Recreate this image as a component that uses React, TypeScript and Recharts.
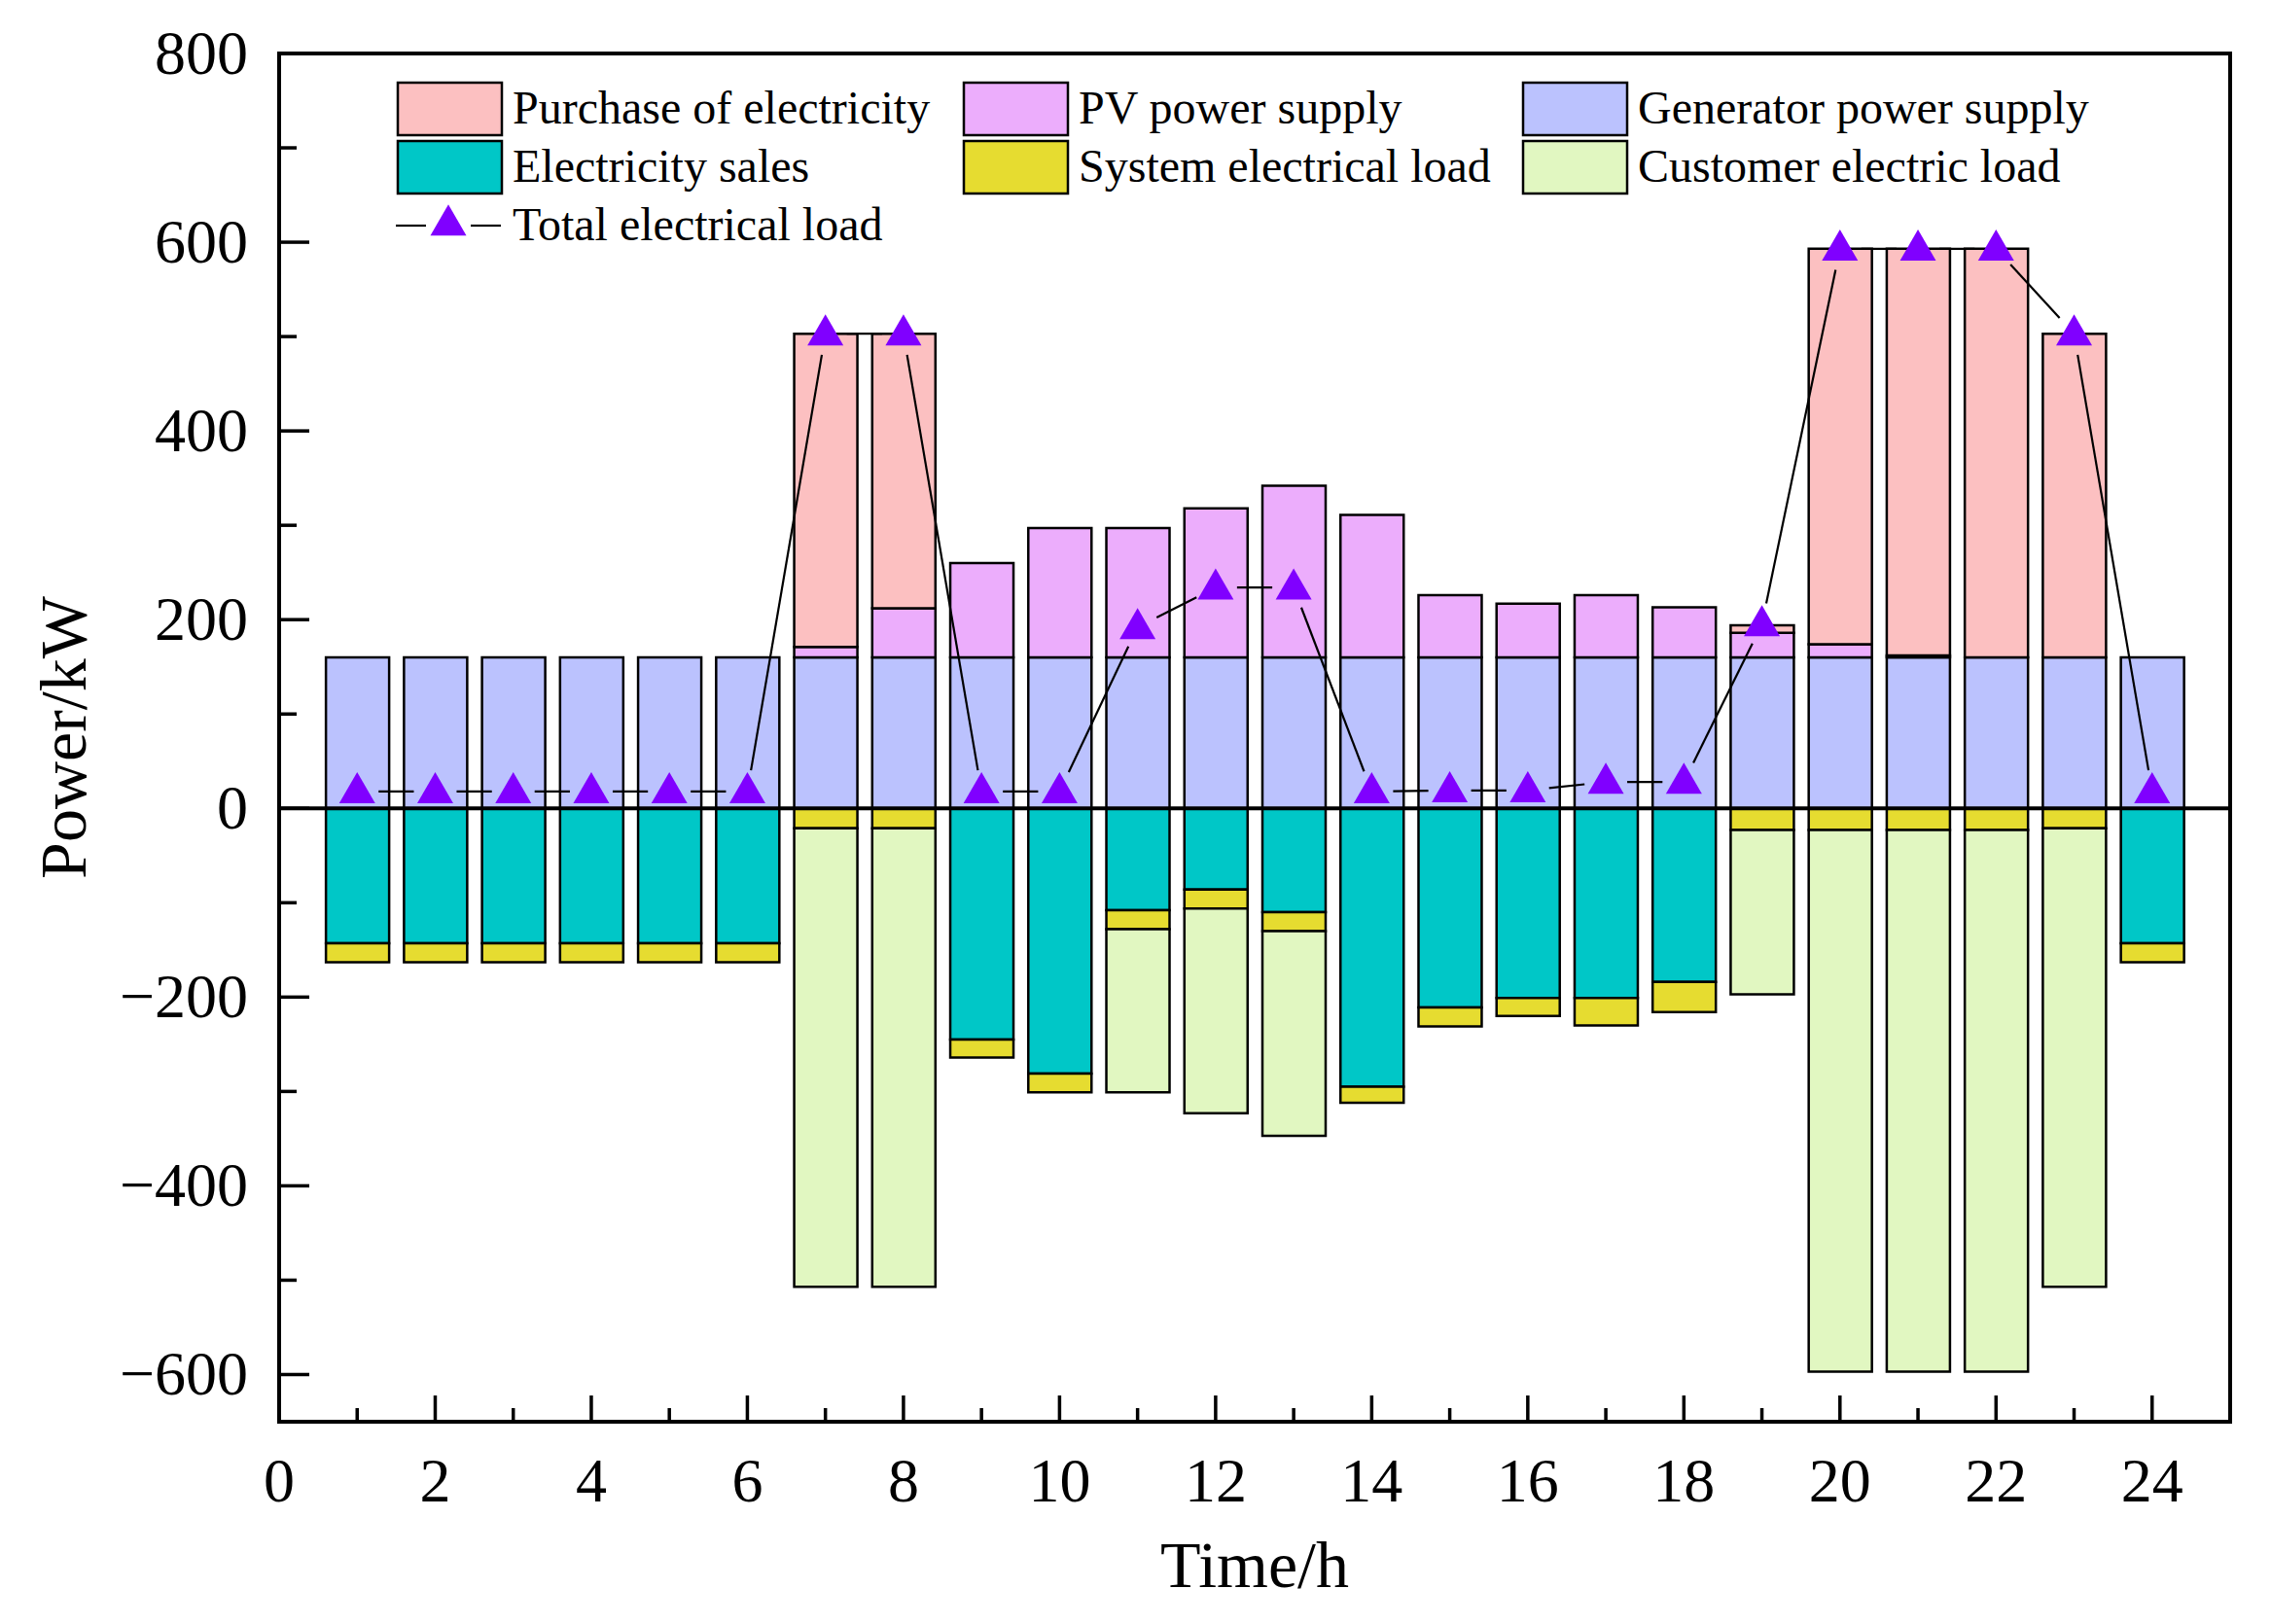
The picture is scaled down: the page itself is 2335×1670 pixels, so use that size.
import React from 'react';
import {
  ComposedChart,
  Bar,
  Line,
  XAxis,
  YAxis,
  ReferenceLine,
  ReferenceArea,
  Legend,
} from 'recharts';

// ---------- data ----------
const hours = [1, 2, 3, 4, 5, 6, 7, 8, 9, 10, 11, 12, 13, 14, 15, 16, 17, 18, 19, 20, 21, 22, 23, 24];
const generatorSupply = [160, 160, 160, 160, 160, 160, 160, 160, 160, 160, 160, 160, 160, 160, 160, 160, 160, 160, 160, 160, 160, 160, 160, 160];
const pvSupply = [0, 0, 0, 0, 0, 0, 11, 52, 100, 137, 137, 158, 182, 151, 66, 57, 66, 53, 26, 14, 2, 0, 0, 0];
const purchase = [0, 0, 0, 0, 0, 0, 332, 291, 0, 0, 0, 0, 0, 0, 0, 0, 0, 0, 8, 419, 431, 433, 343, 0];
const sales = [-143, -143, -143, -143, -143, -143, 0, 0, -245, -281, -108, -86, -110, -295, -211, -201, -201, -184, 0, 0, 0, 0, 0, -143];
const systemLoad = [-20, -20, -20, -20, -20, -20, -21, -21, -19, -20, -20, -20, -20, -17, -20, -19, -29, -32, -23, -23, -23, -23, -21, -20];
const customerLoad = [0, 0, 0, 0, 0, 0, -486, -486, 0, 0, -173, -217, -217, 0, 0, 0, 0, 0, -174, -574, -574, -574, -486, 0];
const totalLoad = [18, 18, 18, 18, 18, 18, 503, 503, 18, 18, 192, 234, 234, 18, 19, 19, 28, 28, 195, 593, 593, 593, 503, 18];

const xTicks = [0, 1, 2, 3, 4, 5, 6, 7, 8, 9, 10, 11, 12, 13, 14, 15, 16, 17, 18, 19, 20, 21, 22, 23, 24];
const yTicks = [-600, -500, -400, -300, -200, -100, 0, 100, 200, 300, 400, 500, 600, 700, 800];

const seriesKeys = ['purchase', 'pv', 'gen', 'sales', 'sys', 'customer'];
const seriesNames = [
  'Purchase of electricity',
  'PV power supply',
  'Generator power supply',
  'Electricity sales',
  'System electrical load',
  'Customer electric load',
];
const seriesColors = ['#FCC0C1', '#ECADFC', '#BBC2FE', '#00C7C7', '#E6DC30', '#E1F7C1'];
const lineName = 'Total electrical load';
const markerColor = '#8000FF';

const data = hours.map((h, i) => ({
  hour: h,
  gen: generatorSupply[i],
  pv: pvSupply[i],
  purchase: purchase[i],
  sales: sales[i],
  sys: systemLoad[i],
  customer: customerLoad[i],
  total: totalLoad[i],
}));

const FONT = "'Liberation Serif', 'Times New Roman', serif";

// triangle whose centroid-ish point sits on the data point
const trianglePoints = (cx: number, cy: number, w: number, h: number) =>
  `${cx},${cy - h * 0.62} ${cx + w / 2},${cy + h * 0.38} ${cx - w / 2},${cy + h * 0.38}`;

const XTick = (props: any) => {
  const { x, y, payload } = props;
  const v = payload.value;
  const major = v % 2 === 0;
  return (
    <g>
      <line x1={x} y1={y} x2={x} y2={y - (major ? 27 : 14)} stroke="#000" strokeWidth={3.5} />
      {major && (
        <text x={x} y={y + 82} textAnchor="middle" fontFamily={FONT} fontSize={64} fill="#000">
          {String(v)}
        </text>
      )}
    </g>
  );
};

const YTick = (props: any) => {
  const { x, y, payload } = props;
  const v = payload.value;
  const major = v % 200 === 0;
  const label = v < 0 ? `\u2212${Math.abs(v)}` : String(v);
  return (
    <g>
      <line x1={x} y1={y} x2={x + (major ? 31 : 18)} y2={y} stroke="#000" strokeWidth={3.5} />
      {major && (
        <text x={x - 32} y={y + 21} textAnchor="end" fontFamily={FONT} fontSize={64} fill="#000">
          {label}
        </text>
      )}
    </g>
  );
};

const renderMarker = (props: any) => {
  const { cx, cy, index, points } = props;
  const next = points && points[index + 1];
  let seg = null;
  if (next && cx != null && cy != null) {
    const dx = next.x - cx;
    const dy = next.y - cy;
    const len = Math.hypot(dx, dy);
    const g = 22;
    if (len > 2 * g) {
      seg = (
        <line
          x1={cx + (dx / len) * g}
          y1={cy + (dy / len) * g}
          x2={next.x - (dx / len) * g}
          y2={next.y - (dy / len) * g}
          stroke="#000"
          strokeWidth={2.2}
        />
      );
    }
  }
  return (
    <g key={`mk-${index}`}>
      {seg}
      <polygon points={trianglePoints(cx, cy, 37, 32)} fill={markerColor} />
    </g>
  );
};

const legendOrder = [0, 1, 2, 3, 4, 5];
const LegendContent = () => {
  const colX = [409, 991, 1566];
  const rowTop = [85, 145];
  const sw = 107;
  const sh = 54;
  return (
    <svg width={2335} height={300} style={{ position: 'absolute', left: 0, top: 0 }}>
      {legendOrder.map((si, k) => {
        const col = k % 3;
        const row = Math.floor(k / 3);
        const x = colX[col];
        const y = rowTop[row];
        return (
          <g key={seriesKeys[si]}>
            <rect x={x} y={y} width={sw} height={sh} fill={seriesColors[si]} stroke="#000" strokeWidth={2.5} />
            <text x={x + sw + 11} y={y + sh / 2 + 15} fontFamily={FONT} fontSize={48} fill="#000">
              {seriesNames[si]}
            </text>
          </g>
        );
      })}
      <g>
        <line x1={407} y1={232} x2={438} y2={232} stroke="#000" strokeWidth={2.2} />
        <line x1={484} y1={232} x2={515} y2={232} stroke="#000" strokeWidth={2.2} />
        <polygon points={trianglePoints(461, 230, 37, 32)} fill={markerColor} />
        <text x={527} y={247} fontFamily={FONT} fontSize={48} fill="#000">
          {lineName}
        </text>
      </g>
    </svg>
  );
};

const XLabel = (props: any) => {
  const { viewBox } = props;
  const cx = viewBox.x + viewBox.width / 2;
  return (
    <text x={cx} y={viewBox.y + 170} textAnchor="middle" fontFamily={FONT} fontSize={68} fill="#000">
      Time/h
    </text>
  );
};

const YLabel = (props: any) => {
  const { viewBox } = props;
  const cy = viewBox.y + viewBox.height / 2;
  return (
    <text
      x={88}
      y={cy}
      transform={`rotate(-90, 88, ${cy})`}
      textAnchor="middle"
      fontFamily={FONT}
      fontSize={68}
      fill="#000"
    >
      Power/kW
    </text>
  );
};

export default function App() {
  return (
    <div style={{ position: 'absolute', left: 0, top: 0, width: 2335, height: 1670, background: '#fff' }}>
      <ComposedChart
        width={2335}
        height={1670}
        data={data}
        stackOffset="sign"
        margin={{ top: 55, right: 42, left: 0, bottom: 0 }}
      >
        <XAxis
          dataKey="hour"
          type="number"
          domain={[0, 25]}
          ticks={xTicks}
          interval={0}
          height={208}
          tickSize={0}
          tickMargin={0}
          tickLine={false}
          tick={<XTick />}
          axisLine={{ stroke: '#000', strokeWidth: 4 }}
          label={<XLabel />}
        />
        <YAxis
          type="number"
          domain={[-650, 800]}
          ticks={yTicks}
          interval={0}
          width={287}
          tickSize={0}
          tickMargin={0}
          tickLine={false}
          tick={<YTick />}
          axisLine={{ stroke: '#000', strokeWidth: 4 }}
          label={<YLabel />}
        />
        <Legend
          layout="horizontal"
          verticalAlign="middle"
          align="center"
          content={<LegendContent />}
          wrapperStyle={{ left: 0, top: 0, width: 2335, height: 300, pointerEvents: 'none' }}
        />
        <Bar dataKey="gen" name={seriesNames[2]} stackId="s" fill={seriesColors[2]} stroke="#000" strokeWidth={2.5} barSize={65} isAnimationActive={false} />
        <Bar dataKey="pv" name={seriesNames[1]} stackId="s" fill={seriesColors[1]} stroke="#000" strokeWidth={2.5} barSize={65} isAnimationActive={false} />
        <Bar dataKey="purchase" name={seriesNames[0]} stackId="s" fill={seriesColors[0]} stroke="#000" strokeWidth={2.5} barSize={65} isAnimationActive={false} />
        <Bar dataKey="sales" name={seriesNames[3]} stackId="s" fill={seriesColors[3]} stroke="#000" strokeWidth={2.5} barSize={65} isAnimationActive={false} />
        <Bar dataKey="sys" name={seriesNames[4]} stackId="s" fill={seriesColors[4]} stroke="#000" strokeWidth={2.5} barSize={65} isAnimationActive={false} />
        <Bar dataKey="customer" name={seriesNames[5]} stackId="s" fill={seriesColors[5]} stroke="#000" strokeWidth={2.5} barSize={65} isAnimationActive={false} />
        <ReferenceLine y={0} stroke="#000" strokeWidth={4} />
        <ReferenceArea x1={0} x2={25} y1={-650} y2={800} fill="none" stroke="#000" strokeWidth={4} />
        <Line
          dataKey="total"
          name={lineName}
          type="linear"
          stroke="none"
          dot={renderMarker}
          activeDot={false}
          isAnimationActive={false}
        />
      </ComposedChart>
    </div>
  );
}
